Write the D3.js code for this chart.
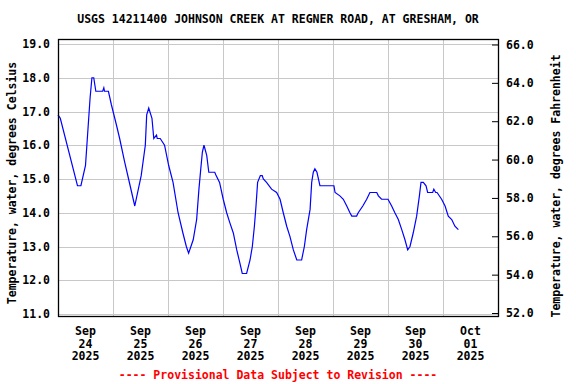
<!DOCTYPE html>
<html>
<head>
<meta charset="utf-8">
<script src="https://cdn.jsdelivr.net/npm/d3@7"></script>
<style>
  body { margin: 0; background: #fff; }
  text { font-family: "DejaVu Sans Mono", "Liberation Mono", monospace; font-weight: bold; font-size: 11.5px; }
</style>
</head>
<body>
<div id="chart"></div>
<script>
// water temperature, hours after Sep 24 2025 00:00, degrees C
const hoursFromStart = [0, 1, 8.5, 10, 12, 14, 14.8, 15.6, 16.5, 19.5, 20, 20.3, 22, 23.3, 25.5, 26.9, 29.1, 30.8,
  33.5, 36.3, 38.1, 38.7, 39.6, 41, 41.8, 43, 43.3, 44.6, 46.5, 48.3, 50.2, 52.4, 54.5, 56, 57, 59, 60.5, 61.5,
  62.3, 63, 63.7, 64.9, 65.8, 68.4, 69, 70.5, 72.1, 73.6, 75, 76.5, 78, 79.4, 80.4, 82.3, 83.8, 84.8, 85.7, 86.4,
  87.1, 88.3, 89.1, 89.6, 91, 93.2, 95.4, 96.9, 98.3, 99.8, 101.2, 102.7, 104.2, 106.3, 107.5, 108.5, 110, 110.7,
  111.4, 112.1, 113, 114.3, 120.4, 120.9, 123, 124.5, 126, 127.4, 128.2, 130.3, 131, 133, 134.7, 136.1, 139.1,
  139.8, 141.2, 144, 145.6, 147, 148.5, 150, 151.4, 152.6, 153.6, 155, 156.5, 157.7, 158.4, 159.4, 160.6, 161.3,
  163.5, 164, 164.8, 165.4, 167.4, 168.9, 170.3, 171.8, 173.2, 174.7];
const tempC = [16.9, 16.8, 14.8, 14.8, 15.4, 17.4, 18.0, 18.0, 17.6, 17.6, 17.7, 17.6, 17.6, 17.2, 16.6, 16.2, 15.5, 15.0,
  14.2, 15.1, 16.0, 16.9, 17.1, 16.8, 16.2, 16.3, 16.2, 16.2, 16.0, 15.4, 14.9, 14.0, 13.4, 13.0, 12.8, 13.2, 13.8, 14.7,
  15.3, 15.8, 16.0, 15.7, 15.2, 15.2, 15.1, 14.9, 14.4, 14.0, 13.7, 13.4, 12.9, 12.5, 12.2, 12.2, 12.6, 13.0, 13.6, 14.2,
  14.9, 15.1, 15.1, 15.0, 14.9, 14.7, 14.6, 14.4, 14.0, 13.6, 13.3, 12.9, 12.6, 12.6, 13.0, 13.5, 14.1, 14.9,
  15.2, 15.3, 15.2, 14.8, 14.8, 14.6, 14.5, 14.4, 14.2, 14.0, 13.9, 13.9, 14.0, 14.2, 14.4, 14.6, 14.6,
  14.5, 14.4, 14.4, 14.2, 14.0, 13.8, 13.5, 13.2, 12.9, 13.0, 13.4, 13.9, 14.5, 14.9, 14.9, 14.8, 14.6,
  14.6, 14.7, 14.6, 14.6, 14.4, 14.2, 13.9, 13.8, 13.6, 13.5];

const tickMonths = ["Sep", "Sep", "Sep", "Sep", "Sep", "Sep", "Sep", "Oct"];
const tickDays = ["24", "25", "26", "27", "28", "29", "30", "01"];
const tickYears = ["2025", "2025", "2025", "2025", "2025", "2025", "2025", "2025"];
const yTicksC = [11, 12, 13, 14, 15, 16, 17, 18, 19];
const yTicksF = [52, 54, 56, 58, 60, 62, 64, 66];

const startMs = Date.UTC(2025, 8, 24);
const hour = 3600 * 1000;
const data = hoursFromStart.map((h, i) => ({ t: new Date(startMs + h * hour), v: tempC[i] }));

const width = 576, height = 384;
const margin = { left: 58, right: 498, top: 39, bottom: 316 };

const svg = d3.select("#chart").append("svg")
  .attr("width", width)
  .attr("height", height);

const x = d3.scaleUtc()
  .domain([new Date(startMs), new Date(startMs + 8 * 24 * hour)])
  .range([margin.left, margin.right]);
const y = d3.scaleLinear().domain([11, 19]).range([314, 44]);
const yF = d3.scaleLinear().domain([52, 66]).range([313, 44.5]);

// grid
const midnights = d3.range(1, 8).map(d => new Date(startMs + d * 24 * hour));
svg.append("g")
  .selectAll("line")
  .data(midnights)
  .join("line")
  .attr("x1", d => Math.round(x(d)) + 0.5)
  .attr("x2", d => Math.round(x(d)) + 0.5)
  .attr("y1", margin.top)
  .attr("y2", margin.bottom)
  .attr("stroke", "#c8c8c8");
svg.append("g")
  .selectAll("line")
  .data(yTicksC)
  .join("line")
  .attr("x1", margin.left)
  .attr("x2", margin.right)
  .attr("y1", d => Math.round(y(d)) + 0.5)
  .attr("y2", d => Math.round(y(d)) + 0.5)
  .attr("stroke", "#c8c8c8");

// line
svg.append("path")
  .datum(data)
  .attr("fill", "none")
  .attr("stroke", "#0000ff")
  .attr("stroke-width", 1.2)
  .attr("d", d3.line().x(d => x(d.t)).y(d => y(d.v)));

// frame
svg.append("rect")
  .attr("x", margin.left + 0.5)
  .attr("y", margin.top + 0.5)
  .attr("width", margin.right - margin.left)
  .attr("height", margin.bottom - margin.top)
  .attr("fill", "none")
  .attr("stroke", "#000")
  .attr("stroke-width", 1.3);

// left axis
const gl = svg.append("g")
  .attr("transform", `translate(${margin.left},0)`)
  .call(d3.axisLeft(y).tickValues(yTicksC).tickFormat(d3.format(".1f")).tickSize(0).tickPadding(8));
gl.select(".domain").remove();
gl.selectAll("text").attr("fill", "#000").style("font-size", "11.5px");

// right axis
const gr = svg.append("g")
  .attr("transform", `translate(${margin.right},0)`)
  .call(d3.axisRight(yF).tickValues(yTicksF).tickFormat(d3.format(".1f")).tickSize(-6).tickPadding(8));
gr.select(".domain").remove();
gr.selectAll("line").attr("stroke", "#000");
gr.selectAll("text").attr("fill", "#000").style("font-size", "11.5px");

// bottom labels at noon of each day
const noons = d3.range(0, 8).map(d => new Date(startMs + (d + 0.5) * 24 * hour));
const xl = svg.append("g").selectAll("text")
  .data(noons)
  .join("text")
  .attr("text-anchor", "middle")
  .attr("x", d => x(d));
xl.append("tspan").attr("x", d => x(d)).attr("y", 335).text((d, i) => tickMonths[i]);
xl.append("tspan").attr("x", d => x(d)).attr("y", 347.5).text((d, i) => tickDays[i]);
xl.append("tspan").attr("x", d => x(d)).attr("y", 360).text((d, i) => tickYears[i]);

// titles
svg.append("text")
  .attr("x", 278)
  .attr("y", 23)
  .attr("text-anchor", "middle")
  .text("USGS 14211400 JOHNSON CREEK AT REGNER ROAD, AT GRESHAM, OR");

svg.append("text")
  .attr("transform", "translate(16,183) rotate(-90)")
  .attr("text-anchor", "middle")
  .text("Temperature, water, degrees Celsius");

svg.append("text")
  .attr("transform", "translate(560,186) rotate(-90)")
  .attr("text-anchor", "middle")
  .text("Temperature, water, degrees Fahrenheit");

svg.append("text")
  .attr("x", 278)
  .attr("y", 379)
  .attr("text-anchor", "middle")
  .attr("fill", "#ff0000")
  .text("---- Provisional Data Subject to Revision ----");
</script>
</body>
</html>
